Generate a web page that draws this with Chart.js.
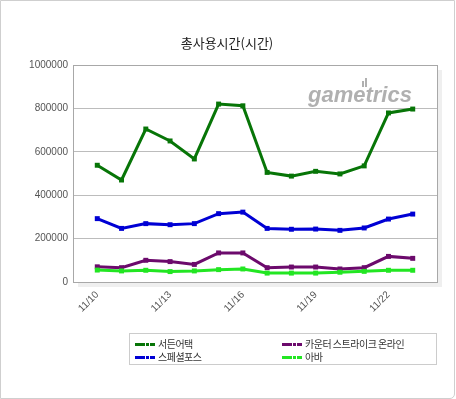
<!DOCTYPE html>
<html>
<head>
<meta charset="utf-8">
<script src="https://cdn.jsdelivr.net/npm/chart.js@4"></script>
<style>
    html, body { margin: 0; padding: 0; background: #fff; }
    #moldura {
        position: absolute; left: 0; top: 0; width: 453px; height: 397px;
        border: 1px solid #cfcfcf; border-bottom-right-radius: 5px; box-sizing: content-box;
    }
    #titulo {
        position: absolute; left: 0; width: 454px; top: 33px; text-align: center;
        font: 13px "Noto Sans CJK KR", sans-serif; color: #222;
    }
    #legenda {
        position: absolute; left: 129px; top: 333px; width: 306px; height: 30px;
        border: 1px solid #ccc; font: 10px "Noto Sans CJK KR", sans-serif; color: #333;
        letter-spacing: -0.5px;
    }
    .item { position: absolute; height: 13px; line-height: 13px; white-space: nowrap; }
    .marca { display: inline-block; vertical-align: middle; width: 20px; height: 3px; margin-right: 3px; position: relative; top: -1px; }
    .marca i { position: absolute; top: 0; height: 3px; }
    canvas { position: absolute; left: 0; top: 0; }
</style>
</head>
<body>
<div id="moldura"></div>
<canvas id="grafico" width="456" height="399"></canvas>
<div id="titulo">총사용시간(시간)</div>
<div id="legenda"></div>
<script>
// ==========================================
// 총사용시간 — dados
// ==========================================
const datas = ['11/10', '11/11', '11/12', '11/13', '11/14', '11/15', '11/16', '11/17', '11/18', '11/19', '11/20', '11/21', '11/22', '11/23'];
const rotulosY = [0, 200000, 400000, 600000, 800000, 1000000];

const suddenAttack = [538000, 470000, 705000, 650000, 567000, 820000, 812000, 505000, 488000, 510000, 498000, 535000, 779000, 797000];
const specialForce = [292000, 247000, 269000, 264000, 269000, 315000, 322000, 247000, 243000, 244000, 238000, 249000, 290000, 313000];
const counterStrike = [70000, 66000, 100000, 94000, 81000, 134000, 134000, 66000, 69000, 69000, 60000, 66000, 118000, 109000];
const ava = [55000, 51000, 54000, 48000, 51000, 57000, 60000, 41000, 41000, 41000, 45000, 49000, 54000, 54000];

const series = [
    { nome: '서든어택', valores: suddenAttack, cor: '#077507', ordem: 3 },
    { nome: '카운터 스트라이크 온라인', valores: counterStrike, cor: '#6c0a6c', ordem: 1 },
    { nome: '스페셜포스', valores: specialForce, cor: '#0000d4', ordem: 2 },
    { nome: '아바', valores: ava, cor: '#22e622', ordem: 0 }
];

// fundo do gráfico: sombra, área branca, borda e marca d'água
const fundoPlot = {
    id: 'fundoPlot',
    beforeDraw(chart) {
        const { ctx, chartArea: a } = chart;
        ctx.save();
        ctx.fillStyle = '#efefef';
        ctx.fillRect(a.left + 5, a.top + 5, a.right - a.left, a.bottom - a.top);
        ctx.fillStyle = '#ffffff';
        ctx.fillRect(a.left, a.top, a.right - a.left, a.bottom - a.top);
        ctx.restore();
    },
    beforeDatasetsDraw(chart) {
        const { ctx, chartArea: a } = chart;
        ctx.save();
        ctx.strokeStyle = '#a8a8a8';
        ctx.lineWidth = 1;
        ctx.strokeRect(Math.round(a.left) + 0.5, Math.round(a.top) + 0.5, Math.round(a.right - a.left), Math.round(a.bottom - a.top));
        ctx.font = 'italic bold 22px "Liberation Sans", Arial, sans-serif';
        ctx.fillStyle = 'rgba(150,150,150,0.75)';
        ctx.textBaseline = 'alphabetic';
        ctx.fillText('gametrics', a.right - 129, a.top + 37);
        ctx.fillRect(a.right - 75, a.top + 16, 2, 6);
        ctx.fillRect(a.right - 72, a.top + 13, 2, 9);
        ctx.restore();
    }
};

new Chart(document.getElementById('grafico').getContext('2d'), {
    type: 'line',
    data: {
        datasets: series.map(s => ({
            label: s.nome,
            data: s.valores.map((v, i) => ({ x: i, y: v })),
            borderColor: s.cor,
            backgroundColor: s.cor,
            borderWidth: 3,
            pointStyle: 'rect',
            pointRadius: 3.5,
            pointBorderWidth: 0,
            order: s.ordem,
            tension: 0
        }))
    },
    options: {
        responsive: false,
        animation: false,
        layout: { padding: { top: 65, right: 19, left: 0, bottom: 0 } },
        plugins: { legend: { display: false }, tooltip: { enabled: false } },
        scales: {
            x: {
                type: 'linear', min: -1, max: datas.length,
                afterFit: (scale) => { scale.height = 117; },
                grid: { display: false, drawTicks: false },
                border: { display: false },
                ticks: {
                    stepSize: 1, autoSkip: false, padding: 7,
                    minRotation: 45, maxRotation: 45,
                    color: '#555', font: { size: 10, family: '"Liberation Sans", Arial' },
                    callback: (v) => (v >= 0 && v < datas.length && v % 3 === 0) ? datas[v] : ''
                }
            },
            y: {
                min: 0, max: 1000000,
                afterFit: (scale) => { scale.width = 73; },
                afterBuildTicks: (scale) => { scale.ticks = rotulosY.map(v => ({ value: v })); },
                grid: { color: '#bcbcbc', drawTicks: false },
                border: { display: false },
                ticks: {
                    padding: 5, color: '#555', font: { size: 10, family: '"Liberation Sans", Arial' },
                    callback: (v) => String(v)
                }
            }
        }
    },
    plugins: [fundoPlot]
});

// legenda em HTML (2 colunas)
const legenda = document.getElementById('legenda');
const posicoes = [[5, 3], [152, 3], [5, 16], [152, 16]];
series.forEach((s, i) => {
    const item = document.createElement('div');
    item.className = 'item';
    item.style.left = posicoes[i][0] + 'px';
    item.style.top = posicoes[i][1] + 'px';
    item.innerHTML = `<span class="marca">
        <i style="left:0;width:10px;background:${s.cor}"></i>
        <i style="left:11px;width:3px;background:${s.cor}"></i>
        <i style="left:15px;width:5px;background:${s.cor}"></i>
    </span>${s.nome}`;
    legenda.appendChild(item);
});
</script>
</body>
</html>
